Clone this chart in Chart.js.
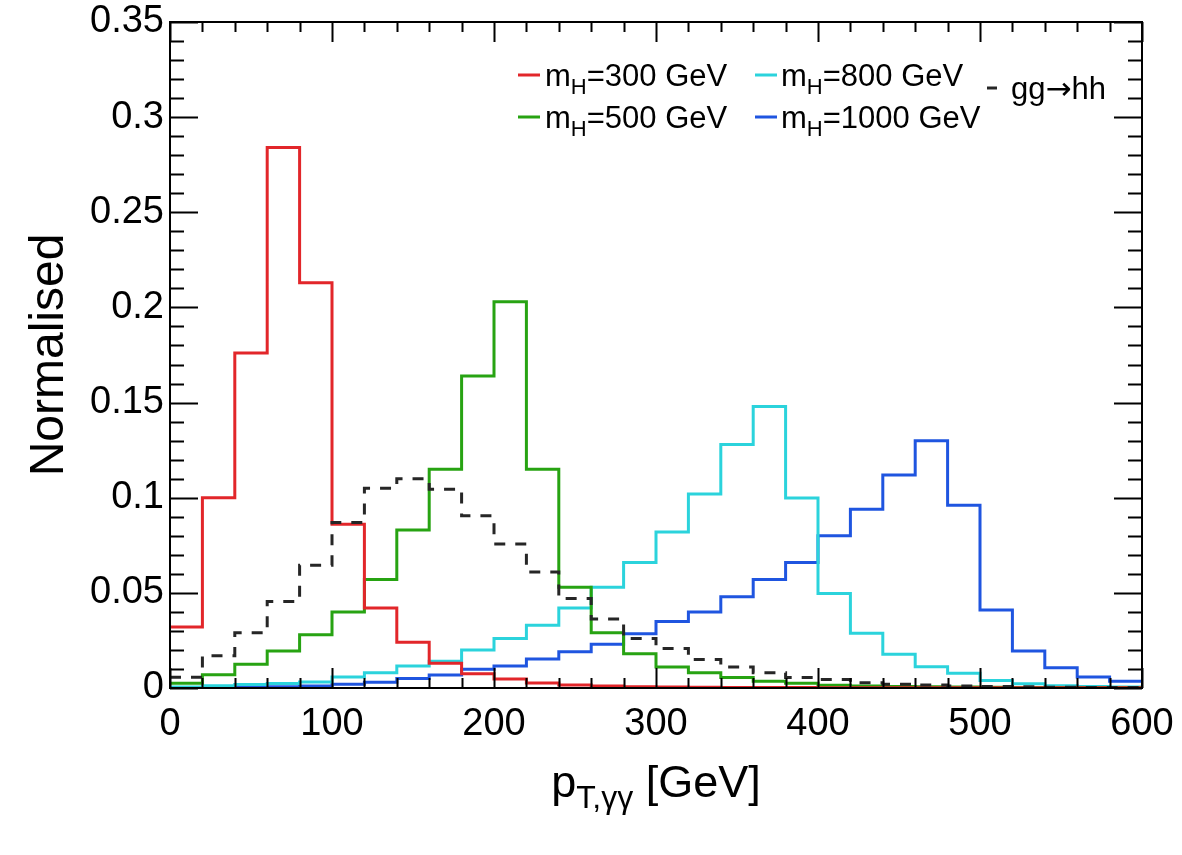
<!DOCTYPE html>
<html>
<head>
<meta charset="utf-8">
<script src="https://cdn.jsdelivr.net/npm/chart.js@4.4.1/dist/chart.umd.min.js"></script>
<style>
  html, body { margin: 0; padding: 0; background: #fff; }
  #myChart { display: block; }
</style>
</head>
<body>
<canvas id="myChart" width="1182" height="855"></canvas>
<script>
// bins of 20 GeV, low edges + last upper edge
const binLowEdges = [0, 20, 40, 60, 80, 100, 120, 140, 160, 180, 200, 220, 240, 260, 280,
                     300, 320, 340, 360, 380, 400, 420, 440, 460, 480, 500, 520, 540, 560, 580];
const binHighEdge = 600;

const mH300 = [0.032, 0.100, 0.176, 0.284, 0.213, 0.086, 0.042, 0.024, 0.013, 0.0075,
               0.0047, 0.0026, 0.0016, 0.0010, 0.0007, 0.0005, 0.0004, 0.0003, 0.0002, 0.0002,
               0.0001, 0.0001, 0.0001, 0.0001, 0.0001, 0.0001, 0.0001, 0.0001, 0.0001, 0.0001];
const mH500 = [0.0025, 0.007, 0.0125, 0.0195, 0.028, 0.040, 0.057, 0.083, 0.115, 0.164,
               0.203, 0.115, 0.053, 0.029, 0.018, 0.011, 0.008, 0.0055, 0.0035, 0.0025,
               0.0015, 0.0010, 0.0008, 0.0006, 0.0005, 0.0004, 0.0003, 0.0003, 0.0002, 0.0002];
const mH800 = [0.0005, 0.0012, 0.0018, 0.0023, 0.0032, 0.0058, 0.008, 0.0115, 0.014, 0.020,
               0.026, 0.033, 0.042, 0.053, 0.066, 0.082, 0.102, 0.128, 0.148, 0.0998,
               0.0497, 0.0288, 0.0177, 0.0112, 0.0077, 0.0040, 0.0022, 0.0012, 0.0008, 0.0005];
const mH1000 = [0.0002, 0.0003, 0.0004, 0.0006, 0.001, 0.002, 0.003, 0.005, 0.0068, 0.0098,
                0.0116, 0.0152, 0.019, 0.023, 0.0285, 0.035, 0.040, 0.048, 0.057, 0.066,
                0.080, 0.094, 0.112, 0.130, 0.096, 0.041, 0.0195, 0.0106, 0.0058, 0.0036];
const gghh = [0.0057, 0.017, 0.029, 0.0455, 0.0645, 0.087, 0.105, 0.110, 0.1045, 0.0905,
              0.0757, 0.061, 0.047, 0.0362, 0.026, 0.0207, 0.015, 0.011, 0.008, 0.0055,
              0.0045, 0.0028, 0.0020, 0.0016, 0.0011, 0.0008, 0.0006, 0.0004, 0.0003, 0.0002];

const seriesNames = ['m_{H}=300 GeV', 'm_{H}=500 GeV', 'm_{H}=800 GeV', 'm_{H}=1000 GeV', 'gg\u2192hh'];
const xTicks = [0, 100, 200, 300, 400, 500, 600];
const yTicks = [0, 0.05, 0.1, 0.15, 0.2, 0.25, 0.3, 0.35];
const xTitle = 'p_{T,\u03b3\u03b3} [GeV]';
const yTitle = 'Normalised';

const FONT = '"Liberation Sans", Arial, Helvetica, sans-serif';
const SYMFONT = '"DejaVu Sans", sans-serif';

function hist(vals, label, color, dash) {
    const pts = binLowEdges.map((e, i) => ({ x: e, y: vals[i] }));
    pts.push({ x: binHighEdge, y: vals[vals.length - 1] });
    return {
        label: label,
        data: pts,
        borderColor: color,
        backgroundColor: color,
        borderWidth: 3,
        borderDash: dash || [],
        stepped: 'before',
        pointRadius: 0,
        fill: false,
        tension: 0
    };
}

// split "a_{b}c" into pieces with a sub flag, arrows get their own piece
function parseRich(str) {
    const parts = [];
    let i = 0, buf = '';
    const flush = () => { if (buf) parts.push({ t: buf }); buf = ''; };
    while (i < str.length) {
        if (str[i] === '_' && str[i + 1] === '{') {
            flush();
            const end = str.indexOf('}', i);
            parts.push({ t: str.slice(i + 2, end), sub: true });
            i = end + 1;
        } else if (str[i] === '\u2192') {
            flush();
            parts.push({ t: str[i], sym: true });
            i++;
        } else {
            buf += str[i];
            i++;
        }
    }
    flush();
    return parts;
}

function fontFor(p, size, subSize) {
    return (p.sub ? subSize : size) + 'px ' + (p.sym ? SYMFONT : FONT);
}

function drawRich(ctx, str, x, y, size, align, subRatio) {
    const parts = parseRich(str);
    const subSize = Math.round(size * (subRatio || 0.7));
    let w = 0;
    parts.forEach(p => {
        ctx.font = fontFor(p, size, subSize);
        p.w = ctx.measureText(p.t).width;
        w += p.w;
    });
    let cx = x;
    if (align === 'center') cx = x - w / 2;
    if (align === 'right') cx = x - w;
    ctx.textAlign = 'left';
    ctx.textBaseline = 'alphabetic';
    parts.forEach(p => {
        ctx.font = fontFor(p, size, subSize);
        ctx.fillText(p.t, cx, p.sub ? y + size * 0.25 : y);
        cx += p.w;
    });
}

// ROOT like frame with inward ticks on all four sides
const rootFrame = {
    id: 'rootFrame',
    afterDatasetsDraw(chart) {
        const { ctx, chartArea: a, scales } = chart;
        ctx.save();
        ctx.strokeStyle = '#000';
        ctx.lineWidth = 2;
        ctx.strokeRect(a.left, a.top, a.right - a.left, a.bottom - a.top);
        ctx.beginPath();
        for (let k = 0; k <= 35; k++) {
            const py = Math.round(scales.y.getPixelForValue(k / 100)) + 0.5;
            const len = k % 5 === 0 ? 28 : 14;
            ctx.moveTo(a.left, py); ctx.lineTo(a.left + len, py);
            ctx.moveTo(a.right, py); ctx.lineTo(a.right - len, py);
        }
        for (let k = 0; k <= 30; k++) {
            const px = Math.round(scales.x.getPixelForValue(k * 20)) + 0.5;
            const len = k % 5 === 0 ? 20 : 10;
            ctx.moveTo(px, a.bottom); ctx.lineTo(px, a.bottom - len);
            ctx.moveTo(px, a.top); ctx.lineTo(px, a.top + len);
        }
        ctx.stroke();
        ctx.restore();
    }
};

const rootText = {
    id: 'rootText',
    afterDraw(chart) {
        const { ctx, chartArea: a } = chart;
        const ds = chart.data.datasets;
        ctx.save();
        ctx.fillStyle = '#000';
        // axis titles
        drawRich(ctx, xTitle, (a.left + a.right) / 2, 797, 45, 'center', 0.72);
        ctx.save();
        ctx.translate(63, (a.top + a.bottom) / 2);
        ctx.rotate(-Math.PI / 2);
        drawRich(ctx, yTitle, 0, 0, 48, 'center');
        ctx.restore();

        // legend, two columns plus the gg->hh entry on the right
        const entries = [
            { name: seriesNames[0], lx: 518, tx: 545, y: 75 },
            { name: seriesNames[1], lx: 518, tx: 545, y: 117 },
            { name: seriesNames[2], lx: 755, tx: 781, y: 75 },
            { name: seriesNames[3], lx: 755, tx: 781, y: 117 },
            { name: seriesNames[4], lx: 987, tx: 1011, y: 88, short: true }
        ];
        entries.forEach(e => {
            const d = ds.find(s => s.label === e.name);
            ctx.strokeStyle = d.borderColor;
            ctx.lineWidth = 3;
            ctx.setLineDash([]);
            ctx.beginPath();
            const ll = e.short ? 10 : 22;
            ctx.moveTo(e.lx, e.y); ctx.lineTo(e.lx + ll, e.y);
            ctx.stroke();
            ctx.fillStyle = '#000';
            drawRich(ctx, d.label, e.tx, e.y + 11, 31, 'left');
        });
        ctx.restore();
    }
};

const ctx = document.getElementById('myChart').getContext('2d');
const myChart = new Chart(ctx, {
    type: 'line',
    data: {
        datasets: [
            hist(gghh, seriesNames[4], '#262626', [11, 10]),
            hist(mH300, seriesNames[0], '#e2262a'),
            hist(mH500, seriesNames[1], '#27a312'),
            hist(mH800, seriesNames[2], '#2bd3dc'),
            hist(mH1000, seriesNames[3], '#1f55e0')
        ]
    },
    options: {
        responsive: false,
        animation: false,
        layout: { padding: { top: 22, right: 40, left: 0, bottom: 0 } },
        plugins: { legend: { display: false }, tooltip: { enabled: false } },
        scales: {
            x: {
                type: 'linear',
                min: 0,
                max: 600,
                afterBuildTicks: s => { s.ticks = xTicks.map(v => ({ value: v })); },
                afterFit: s => { s.height = 167; s.paddingLeft = 0; s.paddingRight = 0; },
                grid: { display: false, drawTicks: false },
                border: { display: false },
                ticks: {
                    autoSkip: false, maxRotation: 0, padding: 14,
                    color: '#000',
                    font: { family: FONT, size: 38 }
                }
            },
            y: {
                type: 'linear',
                min: 0,
                max: 0.35,
                afterBuildTicks: s => { s.ticks = yTicks.map(v => ({ value: v })); },
                afterFit: s => { s.width = 170; s.paddingTop = 0; s.paddingBottom = 0; },
                grid: { display: false, drawTicks: false },
                border: { display: false },
                ticks: {
                    autoSkip: false, padding: 6,
                    color: '#000',
                    font: { family: FONT, size: 38 },
                    callback: v => String(parseFloat(v.toFixed(2)))
                }
            }
        }
    },
    plugins: [rootFrame, rootText]
});
</script>
</body>
</html>
